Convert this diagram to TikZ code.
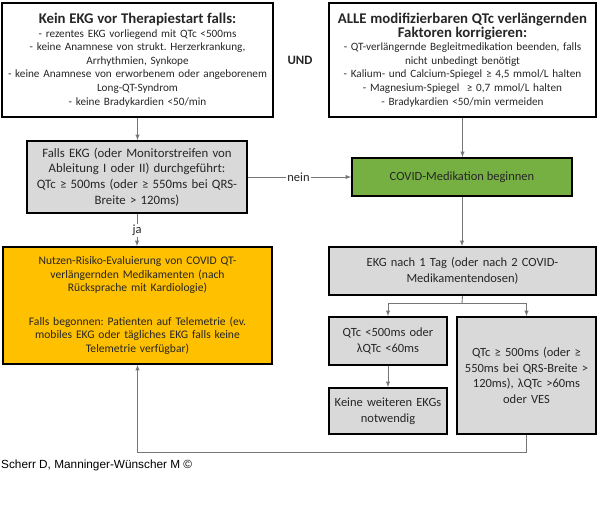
\documentclass[tikz,border=0pt]{standalone}
\usepackage{fontspec}
\setmainfont{Carlito}
\newfontfamily\creditfont{Liberation Sans}
\usepackage{tikz}
\frenchspacing
\definecolor{boxgray}{HTML}{D9D9D9}
\definecolor{startgreen}{HTML}{76B043}
\definecolor{evalorange}{HTML}{FFC000}
\definecolor{linkgray}{HTML}{767676}
\definecolor{textgray}{HTML}{262626}

\begin{document}
\begin{tikzpicture}[x=1pt,y=-1pt,
    box/.style={draw, line width=1.6pt, align=center, inner sep=0pt, text=textgray},
    small/.style={font=\fontsize{11.2}{13.6}\selectfont},
    mid/.style={font=\fontsize{12.5}{15.8}\selectfont},
    link/.style={draw=linkgray, line width=0.9pt},
    lbl/.style={fill=white, inner sep=1pt, text=textgray, font=\fontsize{12.5}{14}\selectfont}]
  \useasboundingbox (0,0) rectangle (600,514);

  % top row
  \node[box, small, minimum width=271pt, minimum height=114pt, text width=268pt] (nokg) at (137.5,60)
    {{\fontsize{14.8}{18}\selectfont\bfseries Kein EKG vor Therapiestart falls:}\\
     - rezentes EKG vorliegend mit QTc <500ms\\
     - keine Anamnese von strukt. Herzerkrankung,\\
     Arrhythmien, Synkope\\
     - keine Anamnese von erworbenem oder angeborenem\\
     Long-QT-Syndrom\\
     - keine Bradykardien <50/min};
  \node[box, small, minimum width=267pt, minimum height=114pt, text width=264pt] (fix) at (462.5,60)
    {{\fontsize{14.8}{18}\selectfont\bfseries ALLE modifizierbaren QTc verlängernden\\
      Faktoren korrigieren:}\\
     - QT-verlängernde Begleitmedikation beenden, falls\\
     nicht unbedingt benötigt\\
     - Kalium- und Calcium-Spiegel ≥ 4,5 mmol/L halten\\
     - Magnesium-Spiegel \ ≥ 0,7 mmol/L halten\\
     - Bradykardien <50/min vermeiden};
  \node[font=\fontsize{12.8}{14}\selectfont\bfseries, text=textgray] (und) at (300,60) {UND};

  % check and start
  \node[box, fill=boxgray, minimum width=220pt, minimum height=72pt, text width=216pt,
        font=\fontsize{12.8}{15.8}\selectfont] (check) at (137,177)
    {Falls EKG (oder Monitorstreifen von\\
     Ableitung I oder II) durchgeführt:\\
     QTc ≥ 500ms (oder ≥ 550ms bei QRS-\\
     Breite > 120ms)};
  \node[box, mid, fill=startgreen, minimum width=220pt, minimum height=38pt] (start) at (462,177)
    {COVID-Medikation beginnen};

  % evaluation and follow-up ECG
  \node[box, fill=evalorange, minimum width=269pt, minimum height=117pt, text width=266pt,
        font=\fontsize{11.6}{13.3}\selectfont] (eval) at (137.5,305.5)
    {Nutzen-Risiko-Evaluierung von COVID QT-\\
     verlängernden Medikamenten (nach\\
     Rücksprache mit Kardiologie)\\[21pt]
     Falls begonnen: Patienten auf Telemetrie (ev.\\
     mobiles EKG oder tägliches EKG falls keine\\
     Telemetrie verfügbar)};
  \node[box, mid, fill=boxgray, minimum width=267pt, minimum height=48pt, text width=264pt] (ekg) at (462.5,271)
    {EKG nach 1 Tag (oder nach 2 COVID-\\
     Medikamentendosen)};
  \node[box, mid, fill=boxgray, minimum width=118pt, minimum height=48pt, text width=116pt] (ok) at (388,341)
    {QTc <500ms oder\\
     λQTc <60ms};
  \node[box, mid, fill=boxgray, minimum width=118pt, minimum height=46pt, text width=116pt] (done) at (388,411)
    {Keine weiteren EKGs\\
     notwendig};
  \node[box, mid, fill=boxgray, minimum width=139pt, minimum height=117pt, text width=136pt] (long) at (526.5,375.5)
    {QTc ≥ 500ms (oder ≥\\
     550ms bei QRS-Breite >\\
     120ms), λQTc >60ms\\
     oder VES};

  \node[anchor=west, font=\creditfont\fontsize{11.8}{13}\selectfont, inner sep=0pt] (credit) at (1,465)
    {Scherr D, Manninger-Wünscher M ©};

  % connectors
  \coordinate (split) at (462,303);
  \coordinate (back) at (526.5,452);
  \draw[link,->,>=latex] (nokg.south) -- (nokg.south |- check.north);
  \draw[link,->,>=latex] (fix.south) -- (fix.south |- start.north);
  \draw[link,->,>=latex] (check.east) -- (start.west) node[lbl, pos=0.49] (no) {nein};
  \draw[link,->,>=latex] (check.south) -- (eval.north -| check.south) node[lbl, pos=0.52] (yes) {ja};
  \draw[link,->,>=latex] (start.south) -- (start.south |- ekg.north);
  \draw[link] (ekg.south) -- (split);
  \draw[link,->,>=latex] (split) -| (ok.north);
  \draw[link,->,>=latex] (split) -| (long.north);
  \draw[link,->,>=latex] (ok.south) -- (done.north);
  \draw[link,->,>=latex] (long.south) -- (back) -| (eval.south);
\end{tikzpicture}
\end{document}
